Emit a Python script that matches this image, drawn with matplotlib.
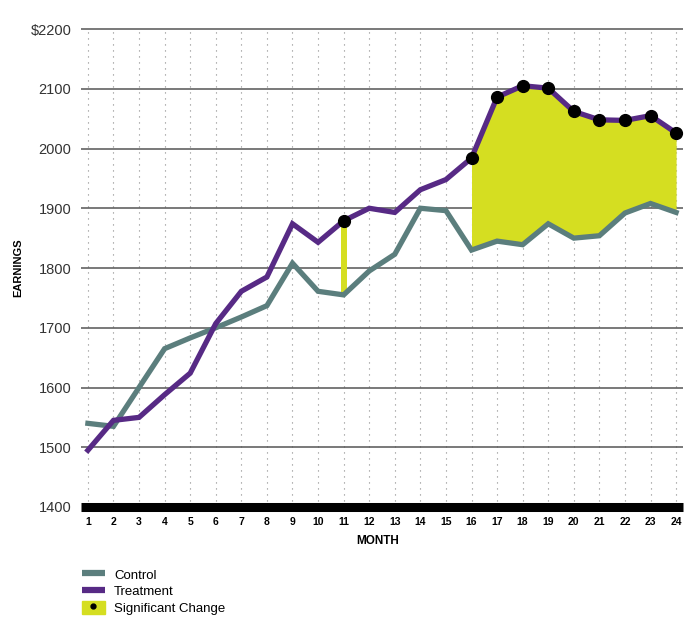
import matplotlib
matplotlib.use("Agg")
import matplotlib.pyplot as plt
import numpy as np
from matplotlib.lines import Line2D
from matplotlib.patches import Patch

plt.rcParams['font.family'] = ['Liberation Sans', 'DejaVu Sans']

months = list(range(1, 25))
control = [1540, 1535, 1600, 1665, 1683, 1700, 1718, 1737, 1808, 1761, 1755, 1795,
           1823, 1900, 1896, 1830, 1845, 1839, 1874, 1850, 1854, 1892, 1908, 1893]
treatment = [1495, 1545, 1550, 1588, 1624, 1707, 1761, 1785, 1874, 1843, 1879, 1900,
             1893, 1931, 1948, 1984, 2086, 2105, 2101, 2062, 2048, 2047, 2055, 2026]
significant = [11, 16, 17, 18, 19, 20, 21, 22, 23, 24]
y_ticks = [1400, 1500, 1600, 1700, 1800, 1900, 2000, 2100, 2200]
y_labels = ["1400", "1500", "1600", "1700", "1800", "1900", "2000", "2100", "$2200"]

c_control = "#5b7e7d"
c_treat = "#572a85"
c_sig = "#d5de21"

fig = plt.figure(figsize=(6.86, 6.25), dpi=100)
ax = fig.add_axes([81 / 686, 1 - 507 / 625, 602 / 686, 478 / 625])

ax.set_xlim(0.73, 24.27)
ax.set_ylim(1400, 2200)

# grid
for m in months:
    ax.plot([m, m], [1400, 2200], color="#888888", lw=0.8, linestyle=(0, (1, 4.4)), zorder=1)
for v in y_ticks[1:]:
    ax.axhline(v, color="#555555", lw=1.1, zorder=1, clip_on=False, solid_capstyle="butt")
ax.axhline(1400, color="black", lw=6.5, zorder=5, clip_on=False, solid_capstyle="butt")

# significant areas
x = np.array(months)
ctl = np.array(control)
trt = np.array(treatment)
runs = []
for m in significant:
    if runs and m == runs[-1][-1] + 1:
        runs[-1].append(m)
    else:
        runs.append([m])
for run in runs:
    idx = [months.index(m) for m in run]
    if len(run) == 1:
        i = idx[0]
        ax.bar(months[i], trt[i] - ctl[i], bottom=ctl[i], width=0.23, color=c_sig, zorder=2)
    else:
        ax.fill_between(x[idx], ctl[idx], trt[idx], color=c_sig, lw=0, zorder=2)

ax.plot(months, control, color=c_control, lw=3.8, zorder=3, solid_joinstyle="miter")
ax.plot(months, treatment, color=c_treat, lw=3.8, zorder=3, solid_joinstyle="miter")
sig_idx = [months.index(m) for m in significant]
ax.plot(x[sig_idx], trt[sig_idx], "o", color="black", ms=8.5, zorder=4)

for s in ax.spines.values():
    s.set_visible(False)
ax.set_xticks(months)
ax.set_xticklabels([str(m) for m in months], fontsize=7.5, fontweight="bold")
ax.set_yticks(y_ticks)
ax.set_yticklabels(y_labels, fontsize=10.5, color="#333333")
ax.tick_params(axis="both", length=0)
ax.tick_params(axis="x", pad=7)
ax.tick_params(axis="y", pad=7)

fig.text(378 / 686, 1 - 541 / 625, "MONTH", ha="center", va="center", fontsize=8.5, fontweight="bold")
fig.text(18 / 686, 1 - 268 / 625, "EARNINGS", ha="center", va="center", rotation=90,
         fontsize=8, fontweight="bold")

handles = [Line2D([], [], color=c_control, lw=4.5, solid_capstyle="butt"),
           Line2D([], [], color=c_treat, lw=4.5, solid_capstyle="butt"),
           (Patch(color=c_sig), Line2D([], [], marker="o", color="black", ls="", ms=3.5))]
fig.legend(handles, ["Control", "Treatment", "Significant Change"],
           loc="upper left", bbox_to_anchor=(70 / 686, 1 - 556 / 625), frameon=False,
           fontsize=9.5, handlelength=1.75, handleheight=1.15, labelspacing=0.18, handletextpad=0.7)

fig.savefig("out.png", dpi=100)
